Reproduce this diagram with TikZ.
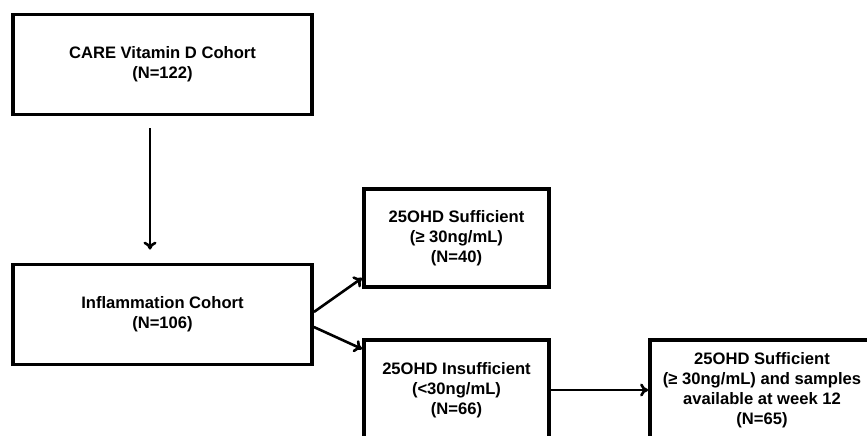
\documentclass[tikz,border=0pt]{standalone}
\usepackage{fontspec}
\setmainfont{Liberation Sans}
\usetikzlibrary{arrows.meta}
\tikzset{
  cohortbox/.style={draw, line width=3.8pt, align=center, inner sep=0pt,
    font=\bfseries\fontsize{16.6}{20}\selectfont},
  arr/.style={-{To[length=8pt,width=13pt]}, line width=2.6pt}
}
\begin{document}
\begin{tikzpicture}[x=1pt,y=-1pt]
  \useasboundingbox (0,0) rectangle (867,436);

  % Cohorts
  \node[cohortbox, minimum width=299pt, minimum height=100pt] (care) at (162.5,64.5)
    {CARE Vitamin D Cohort\\(N=122)};
  \node[cohortbox, minimum width=299pt, minimum height=100pt] (infl) at (162.5,314.5)
    {Inflammation Cohort\\(N=106)};

  % 25OHD status
  \node[cohortbox, minimum width=185pt, minimum height=98pt] (suff) at (456.5,238)
    {25OHD Sufficient\\(≥ 30ng/mL)\\(N=40)};
  \node[cohortbox, minimum width=185pt, minimum height=100pt] (insuff) at (456.5,390)
    {25OHD Insufficient\\(<30ng/mL)\\(N=66)};
  \node[cohortbox, minimum width=224pt, minimum height=100pt] (week) at (762,390)
    {25OHD Sufficient\\(≥ 30ng/mL) and samples\\available at week 12\\(N=65)};

  % Pfeile
  \draw[arr] ([xshift=-12.5pt,yshift=-12pt]care.south) -- ([xshift=-12.5pt,yshift=13pt]infl.north);
  \draw[arr] ([yshift=2.5pt]infl.east) -- ([yshift=-40pt]suff.west);
  \draw[arr] ([yshift=-12.5pt]infl.east) -- ([yshift=41pt]insuff.west);
  \draw[arr] (insuff.east) -- (week.west);
\end{tikzpicture}
\end{document}
